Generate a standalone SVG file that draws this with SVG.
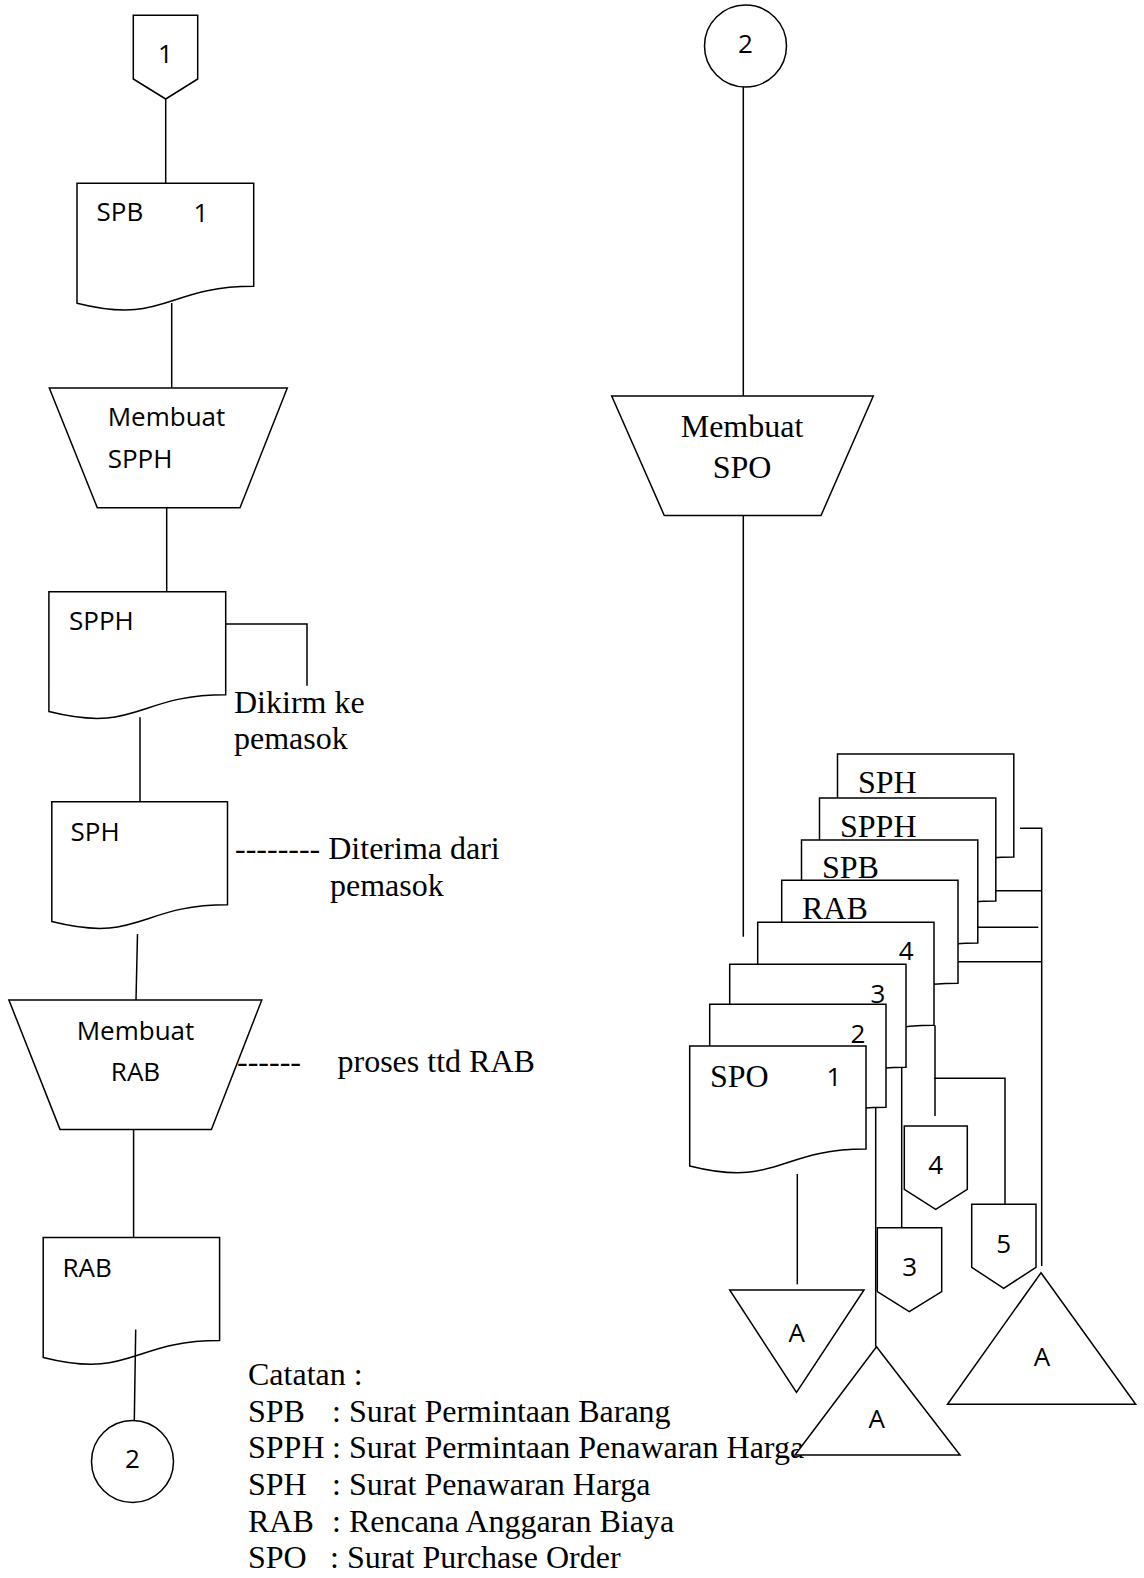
<svg xmlns="http://www.w3.org/2000/svg" width="1144" height="1578" viewBox="0 0 1144 1578">
<style>
.s{fill:#fff;stroke:#000;stroke-width:1.5;stroke-linejoin:miter}
.c{fill:none;stroke:#000;stroke-width:1.5}
.sans{font-family:"Open Sans","Liberation Sans",sans-serif;font-size:26px;fill:#000}
.serif{font-family:"Liberation Serif","Times New Roman",serif;font-size:32px;fill:#000}
.m{text-anchor:middle}
</style>
<rect width="1144" height="1578" fill="#fff"/>
<g id="legend" class="serif">
<text x="248" y="1385">Catatan :</text>
<text x="248" y="1421.7">SPB<tspan x="332">: Surat Permintaan Barang</tspan></text>
<text x="248" y="1458.3">SPPH<tspan x="332">: Surat Permintaan Penawaran Harga</tspan></text>
<text x="248" y="1495">SPH<tspan x="332">: Surat Penawaran Harga</tspan></text>
<text x="248" y="1531.7">RAB<tspan x="332">: Rencana Anggaran Biaya</tspan></text>
<text x="248" y="1568.3">SPO<tspan x="330">: Surat Purchase Order</tspan></text>
</g>
<g id="notes" class="serif">
<text x="234" y="712.7">Dikirm ke</text>
<text x="234" y="749.3">pemasok</text>
<text x="235" y="859.3">-------- Diterima dari</text>
<text x="330" y="895.7">pemasok</text>
<text x="237" y="1071.6">------</text>
<text x="337.5" y="1071.6">proses ttd RAB</text>
</g>
<g id="off1">
<polygon class="s" points="133.3,15.3 197.7,15.3 197.7,79 165.7,99 133.3,79"/>
<text class="sans m" x="165.5" y="63.3">1</text>
</g>
<g id="docSPB">
<path class="s" d="M77,183.3 H253.7 V286.3 C165.4,286.3 165.4,325.4 77,303.2 Z"/>
<text class="sans" x="96.5" y="221">SPB</text>
<text class="sans m" x="201" y="222">1</text>
</g>
<g id="procSPPH">
<polygon class="s" points="49.3,388 287.3,388 240,507.7 97.3,507.7"/>
<text class="sans" x="107.7" y="426">Membuat</text>
<text class="sans" x="107.7" y="468">SPPH</text>
</g>
<g id="docSPPH">
<path class="s" d="M48.9,591.7 H225.7 V694.7 C137.3,694.7 137.3,733.8 48.9,711.6 Z"/>
<text class="sans" x="69" y="630">SPPH</text>
</g>
<g id="docSPH">
<path class="s" d="M51.8,801.7 H227.5 V904.7 C139.6,904.7 139.6,943.8 51.8,921.6 Z"/>
<text class="sans" x="70.5" y="841">SPH</text>
</g>
<g id="procRAB">
<polygon class="s" points="8.9,1000 261.8,1000 211.4,1129.4 60,1129.4"/>
<text class="sans m" x="135.5" y="1039.8">Membuat</text>
<text class="sans m" x="135.5" y="1080.5">RAB</text>
</g>
<g id="docRAB">
<path class="s" d="M43.2,1237.5 H219.6 V1340.5 C131.4,1340.5 131.4,1379.6 43.2,1357.4 Z"/>
<text class="sans" x="62.5" y="1277">RAB</text>
</g>
<g id="conn2a">
<circle class="s" cx="132.5" cy="1461.5" r="41"/>
<text class="sans m" x="132.5" y="1468">2</text>
</g>
<g id="conn2b">
<circle class="s" cx="745.5" cy="46" r="41"/>
<text class="sans m" x="745.5" y="52.7">2</text>
</g>
<g id="procSPO">
<polygon class="s" points="611.7,396 873.3,396 821,515.5 664.3,515.5"/>
<text class="serif m" x="742" y="436.6">Membuat</text>
<text class="serif m" x="742" y="478">SPO</text>
</g>
<g id="stackSPH">
<path class="s" d="M837.5,754 H1013.8 V857 C925.6,857 925.6,896.1 837.5,873.9 Z"/>
<text class="serif" x="858" y="793.3">SPH</text>
</g>
<g id="stackSPPH">
<path class="s" d="M819.5,798 H995.8 V901 C907.6,901 907.6,940.1 819.5,917.9 Z"/>
<text class="serif" x="840" y="837.3">SPPH</text>
</g>
<g id="stackSPB">
<path class="s" d="M801.5,840 H977.8 V943 C889.6,943 889.6,982.1 801.5,959.9 Z"/>
<text class="serif" x="822" y="877.7">SPB</text>
</g>
<g id="stackRAB">
<path class="s" d="M781.7,880.3 H958 V983.3 C869.8,983.3 869.8,1022.4 781.7,1000.2 Z"/>
<text class="serif" x="802" y="919">RAB</text>
</g>
<g id="stack4">
<path class="s" d="M757.7,922.3 H934 V1025.3 C845.8,1025.3 845.8,1064.4 757.7,1042.2 Z"/>
<text class="sans m" x="906.3" y="960">4</text>
</g>
<g id="stack3">
<path class="s" d="M729.7,964.3 H906 V1067.3 C817.8,1067.3 817.8,1106.4 729.7,1084.2 Z"/>
<text class="sans m" x="878" y="1002.7">3</text>
</g>
<g id="stack2">
<path class="s" d="M709.7,1004.3 H886 V1107.3 C797.8,1107.3 797.8,1146.4 709.7,1124.2 Z"/>
<text class="sans m" x="858" y="1042.7">2</text>
</g>
<g id="stackSPO">
<path class="s" d="M689.7,1046 H866 V1149 C777.8,1149 777.8,1188.1 689.7,1165.9 Z"/>
<text class="serif" x="710" y="1086.7">SPO</text>
<text class="sans m" x="834" y="1086">1</text>
</g>
<g id="off4">
<polygon class="s" points="904.3,1126 967.3,1126 967.3,1189.3 935.7,1209.3 904.3,1189.3"/>
<text class="sans m" x="935.7" y="1174">4</text>
</g>
<g id="off3">
<polygon class="s" points="877.3,1227.7 941.7,1227.7 941.7,1291.7 909.3,1311.7 877.3,1291.7"/>
<text class="sans m" x="909.7" y="1275.7">3</text>
</g>
<g id="off5">
<polygon class="s" points="971.7,1204.3 1036,1204.3 1036,1267.3 1003.7,1288.3 971.7,1267.3"/>
<text class="sans m" x="1003.7" y="1253.3">5</text>
</g>
<g id="fileA1">
<polygon class="s" points="729.7,1290 864,1290 796.5,1392.5"/>
<text class="sans m" x="796.7" y="1341.7">A</text>
</g>
<g id="fileA2">
<polygon class="s" points="876.5,1346.7 960,1455 795,1455"/>
<text class="sans m" x="876.7" y="1428.3">A</text>
</g>
<g id="fileA3">
<polygon class="s" points="1041,1272.7 1135.7,1404.3 947.5,1404.3"/>
<text class="sans m" x="1042" y="1366">A</text>
</g>
<g id="connectors" class="c">
<path d="M165.7,99 V183.3"/>
<path d="M171.7,303 V388"/>
<path d="M166.7,507.7 V591.7"/>
<path d="M225.7,624 H307 V685.7"/>
<path d="M140,717.3 V801.7"/>
<path d="M137.5,934 L136,1000"/>
<path d="M133.6,1129.4 V1237.5"/>
<path d="M135.7,1329.4 L134.3,1420.6"/>
<path d="M743.3,87 V396"/>
<path d="M743.3,515.5 V936.7"/>
<path d="M1020,828.3 H1041.7 V1266"/>
<path d="M995.8,890.7 H1041.7"/>
<path d="M977.8,927.3 H1038.3"/>
<path d="M958,961.7 H1041.7"/>
<path d="M935,1025.3 V1116"/>
<path d="M934,1078.3 H1005 V1204.3"/>
<path d="M901.7,1067.3 V1227.7"/>
<path d="M875.7,1108 V1346.7"/>
<path d="M797.3,1174 V1284.3"/>
</g>
</svg>
